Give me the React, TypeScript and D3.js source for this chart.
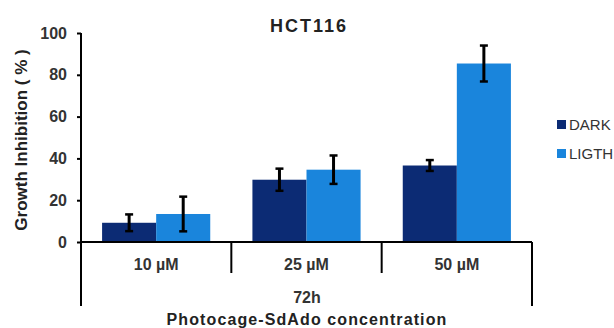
import React, { useEffect, useRef } from 'react';
import * as d3 from 'd3';

const categories = ['10 µM', '25 µM', '50 µM'];
const seriesNames = ['DARK', 'LIGTH'];
const darkValues = [9.2, 29.8, 36.6];
const darkErrors = [4, 5.3, 2.6];
const lightValues = [13.4, 34.6, 85.4];
const lightErrors = [8.3, 6.8, 8.6];
const yTicks = [0, 20, 40, 60, 80, 100];

const colors = ['#0c2b74', '#1a85dc'];

export default function App() {
  const svgRef = useRef<SVGSVGElement>(null);
  const width = 614;
  const height = 328;

  useEffect(() => {
    if (!svgRef.current) return;
    const svg = d3.select(svgRef.current);
    svg.selectAll('*').remove();

    const left = 81, right = 532, top = 33, bottom = 242;
    const font = 'Liberation Sans, Arial, sans-serif';

    const x = d3.scaleBand<string>().domain(categories).range([left, right]);
    const xInner = d3
      .scaleBand<string>()
      .domain(seriesNames)
      .range([0, x.bandwidth()])
      .paddingOuter(0.39);
    const y = d3.scaleLinear().domain([0, 100]).range([bottom, top]);

    // Title
    svg.append('text')
      .attr('x', 309)
      .attr('y', 32)
      .attr('text-anchor', 'middle')
      .attr('font-family', font)
      .attr('font-weight', 'bold')
      .attr('font-size', 18)
      .attr('letter-spacing', 2)
      .attr('fill', '#222')
      .text('HCT116');

    // Bars
    const series = [
      { name: 'DARK', values: darkValues, errors: darkErrors },
      { name: 'LIGTH', values: lightValues, errors: lightErrors },
    ];
    series.forEach((s, si) => {
      const g = svg.append('g');
      g.selectAll('rect')
        .data(categories)
        .join('rect')
        .attr('x', (c) => (x(c) || 0) + (xInner(s.name) || 0))
        .attr('y', (c, i) => y(s.values[i]))
        .attr('width', xInner.bandwidth())
        .attr('height', (c, i) => bottom - y(s.values[i]))
        .attr('fill', colors[si]);
    });

    // Error bars
    series.forEach((s) => {
      categories.forEach((c, i) => {
        const cx = (x(c) || 0) + (xInner(s.name) || 0) + xInner.bandwidth() / 2;
        const hi = y(s.values[i] + s.errors[i]);
        const lo = y(s.values[i] - s.errors[i]);
        const eg = svg.append('g').attr('stroke', '#000').attr('stroke-width', 3);
        eg.append('line').attr('x1', cx).attr('x2', cx).attr('y1', hi).attr('y2', lo);
        eg.append('line').attr('x1', cx - 4).attr('x2', cx + 4).attr('y1', hi).attr('y2', hi).attr('stroke-width', 2.5);
        eg.append('line').attr('x1', cx - 4).attr('x2', cx + 4).attr('y1', lo).attr('y2', lo).attr('stroke-width', 2.5);
      });
    });

    // Y axis
    const yAxis = svg.append('g')
      .attr('transform', `translate(${left},0)`)
      .call(d3.axisLeft(y).tickValues(yTicks).tickSize(4).tickPadding(10));
    yAxis.select('.domain').attr('stroke', '#000').attr('stroke-width', 2).attr('d', `M0,${top}V${bottom}`);
    yAxis.selectAll('.tick line').attr('stroke', '#000').attr('stroke-width', 2);
    yAxis.selectAll('.tick text')
      .attr('font-family', font)
      .attr('font-weight', 'bold')
      .attr('font-size', 16)
      .attr('fill', '#333');

    // X axis frame
    const frame = svg.append('g').attr('stroke', '#000').attr('stroke-width', 2).attr('fill', 'none');
    frame.append('line').attr('x1', left).attr('x2', right).attr('y1', bottom).attr('y2', bottom);
    frame.append('line').attr('x1', left).attr('x2', left).attr('y1', bottom).attr('y2', 306);
    frame.append('line').attr('x1', right).attr('x2', right).attr('y1', bottom).attr('y2', 306);
    categories.slice(1).forEach((c) => {
      frame.append('line')
        .attr('x1', x(c) || 0).attr('x2', x(c) || 0)
        .attr('y1', bottom).attr('y2', 273);
    });

    svg.append('g')
      .selectAll('text')
      .data(categories)
      .join('text')
      .attr('x', (c) => (x(c) || 0) + x.bandwidth() / 2)
      .attr('y', 270)
      .attr('text-anchor', 'middle')
      .attr('font-family', font)
      .attr('font-weight', 'bold')
      .attr('font-size', 16)
      .attr('fill', '#333')
      .text((c) => c);

    svg.append('text')
      .attr('x', 307)
      .attr('y', 303)
      .attr('text-anchor', 'middle')
      .attr('font-family', font)
      .attr('font-weight', 'bold')
      .attr('font-size', 16)
      .attr('fill', '#333')
      .text('72h');

    svg.append('text')
      .attr('x', 307)
      .attr('y', 325)
      .attr('text-anchor', 'middle')
      .attr('font-family', font)
      .attr('font-weight', 'bold')
      .attr('font-size', 16)
      .attr('letter-spacing', 1.1)
      .attr('fill', '#222')
      .text('Photocage-SdAdo concentration');

    // Y label
    svg.append('text')
      .attr('transform', `translate(27,${140}) rotate(-90)`)
      .attr('text-anchor', 'middle')
      .attr('font-family', font)
      .attr('font-weight', 'bold')
      .attr('font-size', 17)
      .attr('fill', '#222')
      .text('Growth Inhibition ( % )');

    // Legend
    const legend = svg.append('g').attr('transform', 'translate(557,120)');
    seriesNames.forEach((n, i) => {
      const lg = legend.append('g').attr('transform', `translate(0,${i * 29})`);
      lg.append('rect').attr('width', 9).attr('height', 9).attr('fill', colors[i]);
      lg.append('text')
        .attr('x', 12)
        .attr('y', 10)
        .attr('font-family', font)
        .attr('font-size', 15)
        .attr('fill', '#333')
        .text(n);
    });
  }, []);

  return (
    <svg
      ref={svgRef}
      width={width}
      height={height}
      style={{ position: 'absolute', left: 0, top: 0, display: 'block', background: '#fff' }}
    />
  );
}
